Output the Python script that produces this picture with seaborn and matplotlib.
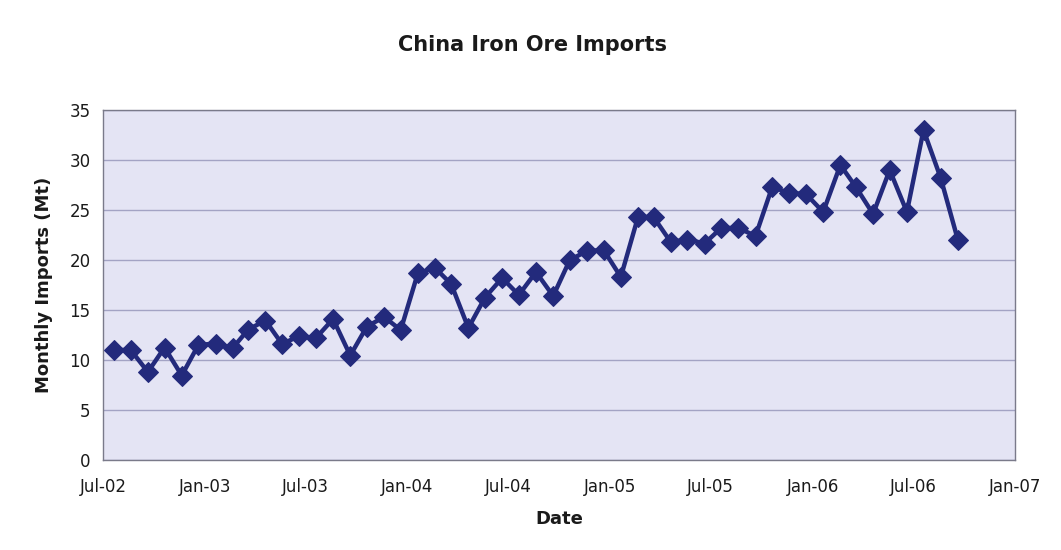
import matplotlib
matplotlib.use("Agg")
import matplotlib.pyplot as plt
import matplotlib.dates as mdates
import numpy as np
import pandas as pd
import seaborn as sns

# Monthly observation dates (Jul-02 .. Sep-06)
months = [
    "2002-07", "2002-08", "2002-09", "2002-10", "2002-11", "2002-12",
    "2003-01", "2003-02", "2003-03", "2003-04", "2003-05", "2003-06",
    "2003-07", "2003-08", "2003-09", "2003-10", "2003-11", "2003-12",
    "2004-01", "2004-02", "2004-03", "2004-04", "2004-05", "2004-06",
    "2004-07", "2004-08", "2004-09", "2004-10", "2004-11", "2004-12",
    "2005-01", "2005-02", "2005-03", "2005-04", "2005-05", "2005-06",
    "2005-07", "2005-08", "2005-09", "2005-10", "2005-11", "2005-12",
    "2006-01", "2006-02", "2006-03", "2006-04", "2006-05", "2006-06",
    "2006-07", "2006-08", "2006-09",
]

# Monthly iron ore imports, million tonnes
imports_mt = [
    11.0, 11.0, 8.8, 11.25, 8.45, 11.5,
    11.65, 11.2, 13.05, 13.95, 11.6, 12.4,
    12.2, 14.1, 10.45, 13.35, 14.3, 13.0,
    18.7, 19.2, 17.6, 13.2, 16.25, 18.2,
    16.5, 18.8, 16.4, 20.0, 20.9, 21.0,
    18.3, 24.3, 24.3, 21.8, 22.05, 21.65,
    23.2, 23.2, 22.4, 27.3, 26.7, 26.6,
    24.8, 29.5, 27.3, 24.6, 29.0, 24.8,
    33.0, 28.2, 22.0,
]

y_ticks = [0, 5, 10, 15, 20, 25, 30, 35]
x_tick_dates = ["2002-07-01", "2003-01-01", "2003-07-01", "2004-01-01",
                "2004-07-01", "2005-01-01", "2005-07-01", "2006-01-01",
                "2006-07-01", "2007-01-01"]

df = pd.DataFrame({
    "Date": pd.to_datetime([m + "-20" for m in months]),
    "Imports": imports_mt,
})

sns.set_theme(style="white")
plt.rcParams["font.family"] = ["DejaVu Sans"]

fig = plt.figure(figsize=(10.61, 5.50), dpi=100)
fig.patch.set_facecolor("white")
ax = fig.add_axes([103 / 1061, 1 - 460 / 550, (1015 - 103) / 1061, (460 - 110) / 550])
ax.set_facecolor("#e4e4f4")

navy = "#232a7c"
sns.lineplot(data=df, x="Date", y="Imports", ax=ax, color=navy, linewidth=3.2,
             marker="D", markersize=10, markeredgecolor=navy,
             markerfacecolor=navy, zorder=3)

ax.set_ylim(0, 35)
ax.set_yticks(y_ticks)
ax.set_xlim(pd.Timestamp("2002-07-01"), pd.Timestamp("2007-01-01"))
ax.set_xticks(pd.to_datetime(x_tick_dates))
ax.xaxis.set_major_formatter(mdates.DateFormatter("%b-%y"))

ax.grid(axis="y", color="#a3a3c4", linewidth=1.0)
ax.grid(axis="x", visible=False)
ax.set_axisbelow(True)

for side in ["left", "right", "top", "bottom"]:
    ax.spines[side].set_visible(True)
    ax.spines[side].set_color("#7a7a8a")
    ax.spines[side].set_linewidth(1.0)

ax.tick_params(axis="y", length=0, pad=9, labelsize=12, labelcolor="#1a1a1a")
ax.tick_params(axis="x", length=0, pad=13, labelsize=12, labelcolor="#1a1a1a")

ax.set_xlabel("Date", fontsize=13, fontweight="bold", color="#1a1a1a", labelpad=10)
ax.set_ylabel("Monthly Imports (Mt)", fontsize=13, fontweight="bold",
              color="#1a1a1a", labelpad=12)

fig.text(0.502, 1 - 45 / 550, "China Iron Ore Imports", ha="center", va="center",
         fontsize=15, fontweight="bold", color="#1a1a1a")

fig.savefig("out.png", dpi=100)
